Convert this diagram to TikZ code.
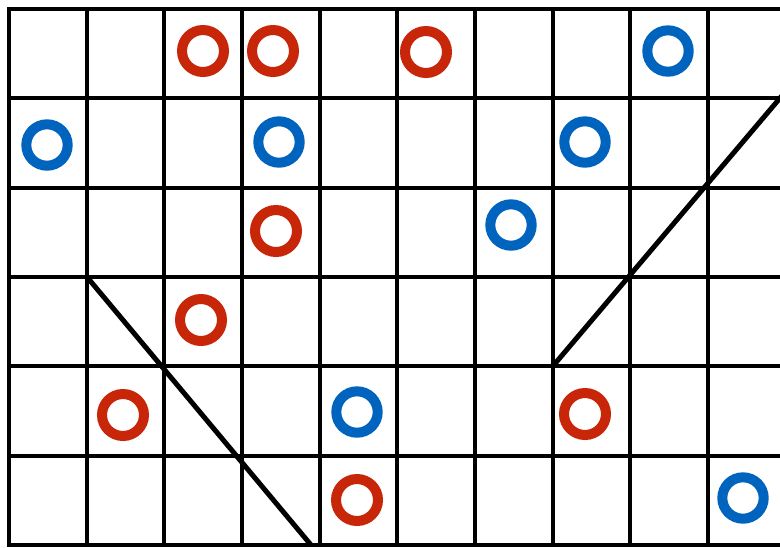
\documentclass[tikz,border=0pt]{standalone}
\definecolor{ringred}{RGB}{200,38,8}
\definecolor{ringblue}{RGB}{0,100,190}
\tikzset{
  gridline/.style={line width=4pt, black, line cap=rect},
  diag/.style={line width=5pt, black, line cap=butt},
  redring/.style={draw=ringred, line width=10pt},
  bluering/.style={draw=ringblue, line width=10pt}
}
\begin{document}
\begin{tikzpicture}[x=1pt,y=-1pt]
\useasboundingbox (0,0) rectangle (780,547);
\fill[white] (0,0) rectangle (780,547);
\begin{scope}
\clip (0,0) rectangle (780,547);
% horizontal grid lines
\foreach \r in {0,...,6} {
  \draw[gridline] (9,{9+\r*89.33}) -- (790,{9+\r*89.33});
}
% vertical grid lines
\foreach \c in {0,...,9} {
  \draw[gridline] ({9+\c*77.67},9) -- ({9+\c*77.67},545);
}
% diagonals
\draw[diag] (87,277) -- (311,545);
\draw[diag] (553,366) -- (786,91);
% rings
\foreach \x/\y in {203/51, 273/51, 426/52, 276/231, 201/320, 123/415, 585/414, 357/500} {
  \draw[redring] (\x,\y) circle (21);
}
\foreach \x/\y in {668/51, 47/145, 279/142, 585/142, 511/225, 357/412, 743/498} {
  \draw[bluering] (\x,\y) circle (20.7);
}
\end{scope}
\end{tikzpicture}
\end{document}
